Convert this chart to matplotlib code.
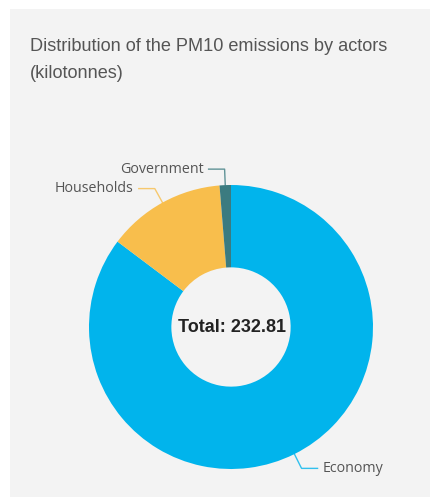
import numpy as np
import matplotlib.pyplot as plt
from matplotlib.patches import Rectangle

# data
actors = ['Economy', 'Households', 'Government']
emissions = [198.51, 31.30, 3.00]
colors = ['#01B4EC', '#F8BE4C', '#3B7B80']

W, H = 430, 497
fig = plt.figure(figsize=(W / 100, H / 100), dpi=100)
ax = fig.add_axes([0, 0, 1, 1])
ax.set_xlim(0, W)
ax.set_ylim(0, H)
ax.axis('off')

# card background
ax.add_patch(Rectangle((10, 0), W - 10, H - 9, facecolor='#F3F3F3', edgecolor='none', zorder=0))

ax.text(30, H - 38, 'Distribution of the PM10 emissions by actors\n(kilotonnes)',
        ha='left', va='top', fontsize=13.1, color='#555555',
        family='Liberation Sans', linespacing=1.8)

cx, cy, r = 231, H - 327, 142
wedges, _ = ax.pie(emissions, colors=colors, startangle=90, counterclock=False,
                   center=(cx, cy), radius=r,
                   wedgeprops=dict(width=r * 0.58, edgecolor='none'))
ax.set_xlim(0, W)
ax.set_ylim(0, H)
ax.set_aspect('equal')

total = sum(emissions)
ax.text(cx + 1, cy, f'Total: {total:.2f}', ha='center', va='center',
        fontsize=13, fontweight='bold', color='#222222', family='Liberation Sans')

# leader lines + labels
for w, name, col in zip(wedges, actors, colors):
    ang = np.deg2rad((w.theta1 + w.theta2) / 2)
    x0, y0 = cx + r * np.cos(ang), cy + r * np.sin(ang)
    x1, y1 = cx + 158 * np.cos(ang), cy + 158 * np.sin(ang)
    side = 1 if np.cos(ang) > 0.02 else -1
    x2 = x1 + side * 16
    ax.plot([x0, x1, x2], [y0, y1, y1], color=col, lw=1, alpha=0.8)
    ax.text(x2 + side * 5, y1, name, ha='left' if side > 0 else 'right', va='center',
            fontsize=10.3, color='#555555', family='Open Sans')

fig.savefig('out.png', dpi=100, facecolor='white')
